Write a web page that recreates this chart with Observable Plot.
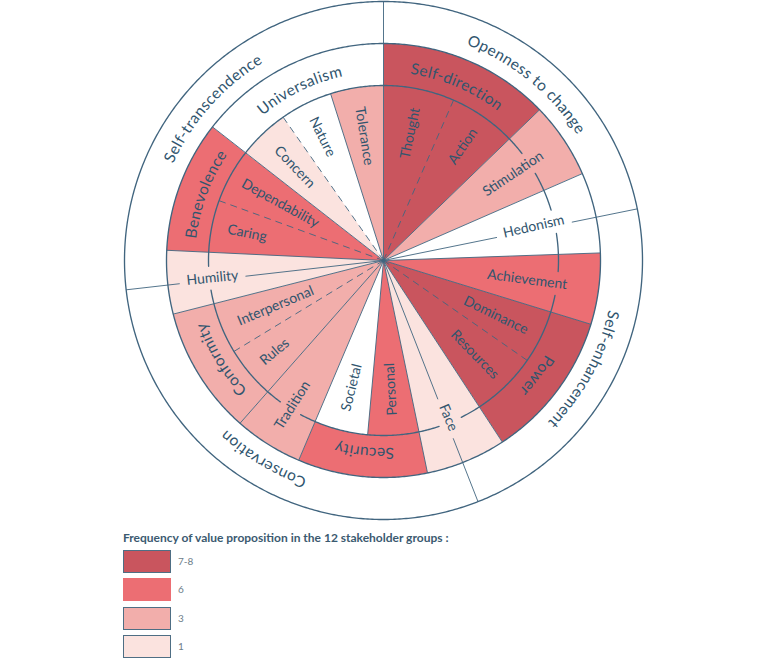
<!DOCTYPE html>
<html>
<head>
<meta charset="utf-8">
<script src="https://cdn.jsdelivr.net/npm/d3@7"></script>
<script src="https://cdn.jsdelivr.net/npm/@observablehq/plot@0.6"></script>
<style>
  body { margin: 0; background: #fff; }
  #wrap { position: relative; width: 766px; height: 666px; overflow: hidden; font-family: Lato, "Open Sans", sans-serif; }
  #wrap svg { position: absolute; left: 0; top: 0; }
  .lg-title { position: absolute; left: 123px; top: 531px; font-size: 12px; font-weight: 700; color: #3b5a70; line-height: 14px; white-space: nowrap; }
  .lg-box { position: absolute; left: 123px; width: 48px; height: 23px; box-sizing: border-box; }
  .lg-label { position: absolute; left: 178px; height: 23px; line-height: 23px; font-size: 10px; color: #6d7d8a; }
</style>
</head>
<body>
<div id="wrap"></div>
<script>
// ---- Data: Schwartz circle of values, angles in degrees clockwise from 12 o'clock ----
const higherOrder = ["Openness to change", "Self-enhancement", "Conservation", "Self-transcendence"];
const higherOrderStart = [0, 78.5, 158.6, 263.5];

const values = ["Self-direction", "Stimulation", "Hedonism", "Achievement", "Power", "Face",
                "Security", "Tradition", "Conformity", "Humility", "Benevolence", "Universalism"];
const valueStart = [0, 46, 66.4, 88, 107.1, 146.8, 168.3, 203, 221.4, 255.7, 272.7, 308];
// frequency class of each value proposition among the 12 stakeholder groups ("0" = not mentioned)
const valueFrequency = ["7-8", "3", "0", "6", "7-8", "1", "6", "3", "3", "1", "6", "0"];

const subValues = ["Thought", "Action", "Dominance", "Resources", "Personal", "Societal",
                   "Rules", "Interpersonal", "Caring", "Dependability", "Concern", "Nature", "Tolerance"];
const subParent = ["Self-direction", "Self-direction", "Power", "Power", "Security", "Security",
                   "Conformity", "Conformity", "Benevolence", "Benevolence", "Universalism", "Universalism", "Universalism"];
const subStart = [0, 23.6, 107.1, 124.8, 168.3, 185.2, 221.4, 238.7, 272.7, 290, 308, 325, 342.4];
const subFrequency = ["7-8", "7-8", "7-8", "7-8", "6", "0", "3", "3", "6", "6", "1", "0", "3"];
// sub-values whose boundary with the preceding sub-value is a soft (dashed) one
const softBoundaryBefore = ["Action", "Resources", "Interpersonal", "Dependability", "Nature"];

const legendLevels = ["7-8", "6", "3", "1"];
const legendTitle = "Frequency of value proposition in the 12 stakeholder groups :";

// ---- Layout ----
const R1 = 175, R2 = 217, R3 = 259;           // inner arc, value ring, higher-order ring
const ringFontSize = 15.5, radialFontSize = 14;
const FONT = "Lato, 'Open Sans', sans-serif";
const TEXT = "#31556e", LINE = "#41657f";
// radial labels and the distance of their centre from the middle
const radialNames = ["Thought", "Action", "Stimulation", "Hedonism", "Achievement", "Dominance", "Resources",
                     "Face", "Personal", "Societal", "Tradition", "Rules", "Interpersonal", "Humility",
                     "Caring", "Dependability", "Concern", "Nature", "Tolerance"];
const radialRadius = [130, 139, 156, 154, 145, 125, 131, 170, 129, 131, 171, 142, 117, 172, 139, 118, 129, 138, 126];

// ---- Geometry helpers ----
const rad = d => d * Math.PI / 180;
const deg = r => r * 180 / Math.PI;
const pt = (a, r) => [r * Math.sin(rad(a)), r * Math.cos(rad(a))];
function arcPoints(a0, a1, r) {
  const n = Math.max(2, Math.ceil(Math.abs(a1 - a0) / 0.5));
  return d3.range(n + 1).map(i => pt(a0 + (a1 - a0) * i / n, r));
}
const ctx = document.createElement("canvas").getContext("2d");
function textWidth(s, size) { ctx.font = `${size}px Lato`; return ctx.measureText(s).width; }

const valueEnd = values.map((_, i) => i + 1 < values.length ? valueStart[i + 1] : 360);
const subEnd = subValues.map((s, i) => {
  if (i + 1 < subValues.length && subParent[i + 1] === subParent[i]) return subStart[i + 1];
  return valueEnd[values.indexOf(subParent[i])];
});
const higherEnd = higherOrder.map((_, i) => i + 1 < higherOrder.length ? higherOrderStart[i + 1] : 360);

function span(name) {
  let i = subValues.indexOf(name);
  if (i >= 0) return [subStart[i], subEnd[i]];
  i = values.indexOf(name);
  return [valueStart[i], valueEnd[i]];
}

// ---- Filled wedges ----
const wedgeRows = [];
function addWedge(id, freq, a0, a1, r) {
  const pts = [...arcPoints(a0, a1, r), [0, 0]];
  pts.forEach(([x, y]) => wedgeRows.push({id, freq, x, y}));
}
values.forEach((v, i) => addWedge(v, valueFrequency[i], valueStart[i], valueEnd[i], R2));
subValues.forEach((s, i) => {
  const parentFreq = valueFrequency[values.indexOf(subParent[i])];
  if (subFrequency[i] !== parentFreq) addWedge(s, subFrequency[i], subStart[i], subEnd[i], R1);
});

// ---- Radial labels ----
const labelRows = radialNames.map((name, i) => {
  const [a0, a1] = span(name);
  const a = (a0 + a1) / 2, r = radialRadius[i];
  const [x, y] = pt(a, r);
  const outward = a < 170;
  return {name, a, r, x, y, rotate: outward ? a - 90 : a - 270, w: textWidth(name, radialFontSize)};
});

// ---- Lines ----
const solidLinks = [], dashedLinks = [];
const link = (a, r0, r1) => { const [x1, y1] = pt(a, r0), [x2, y2] = pt(a, r1); return {x1, y1, x2, y2}; };
// value boundaries
valueStart.forEach(a => { if (!higherOrderStart.includes(a)) solidLinks.push(link(a, 0, R2)); });
// sub-value boundaries
subValues.forEach((s, i) => {
  if (i === 0 || subParent[i - 1] !== subParent[i]) return;
  (softBoundaryBefore.includes(s) ? dashedLinks : solidLinks).push(link(subStart[i], 0, R1));
});
// higher-order dividers, interrupted where a label sits on them
const dividerLinks = [];
higherOrderStart.forEach(a => {
  const lab = labelRows.find(d => Math.abs(d.a - a) < 2);
  if (lab) {
    dividerLinks.push(link(a, 0, lab.r - lab.w / 2 - 7));
    dividerLinks.push(link(a, lab.r + lab.w / 2 + 7, R3));
  } else dividerLinks.push(link(a, 0, R3));
});

// circles; the inner one is interrupted by the labels crossing it
const circleRows = [];
const addArc = (id, a0, a1, r) => arcPoints(a0, a1, r).forEach(([x, y]) => circleRows.push({id, x, y}));
addArc("r2", 0, 360, R2);
addArc("r3", 0, 360, R3);
const gapHalf = deg((radialFontSize / 2 + 5) / R1);
const gaps = labelRows.filter(d => Math.abs(d.r - R1) < d.w / 2)
  .map(d => [d.a - gapHalf, d.a + gapHalf]).sort((p, q) => p[0] - q[0]);
let from = 0;
gaps.forEach(([g0, g1], k) => { addArc("r1-" + k, from, g0, R1); from = g1; });
addArc("r1-end", from, 360, R1);

// ---- Plot ----
const chart = Plot.plot({
  width: 766,
  height: 530,
  margin: 0,
  x: {domain: [-383, 383], axis: null},
  y: {domain: [-270, 260], axis: null},
  color: {type: "ordinal", domain: ["7-8", "6", "3", "1", "0"],
          range: ["#c9555e", "#ec6e73", "#f2aeab", "#fbe3df", "#ffffff"]},
  style: {background: "white"},
  marks: [
    Plot.line(wedgeRows, {x: "x", y: "y", z: "id", fill: "freq", stroke: "none"}),
    Plot.link(solidLinks, {x1: "x1", y1: "y1", x2: "x2", y2: "y2", stroke: LINE, strokeWidth: 0.9}),
    Plot.link(dashedLinks, {x1: "x1", y1: "y1", x2: "x2", y2: "y2", stroke: LINE, strokeWidth: 0.9, strokeDasharray: "7,5"}),
    Plot.link(dividerLinks, {x1: "x1", y1: "y1", x2: "x2", y2: "y2", stroke: LINE, strokeWidth: 0.9}),
    Plot.line(circleRows, {x: "x", y: "y", z: "id", stroke: LINE, strokeWidth: 1.35}),
    Plot.dot([[0, 0]], {x: d => d[0], y: d => d[1], r: 2, fill: LINE, stroke: "none"}),
    Plot.text(labelRows, {x: "x", y: "y", text: "name", rotate: "rotate", fontSize: radialFontSize,
                          fontFamily: FONT, fill: TEXT, textAnchor: "middle", lineAnchor: "middle"})
  ]
});

// ---- Curved ring labels, written clockwise along circles of the chart's scales ----
const sx = chart.scale("x"), sy = chart.scale("y");
const cx = sx.apply(0), cy = sy.apply(0);
const svg = d3.select(chart);
const defs = svg.append("defs");
function circlePath(startAngle, r) {
  const p = a => [cx + r * Math.sin(rad(a)), cy - r * Math.cos(rad(a))];
  const [x0, y0] = p(startAngle), [x1, y1] = p(startAngle + 180);
  return `M${x0},${y0}A${r},${r} 0 1 1 ${x1},${y1}A${r},${r} 0 1 1 ${x0},${y0}`;
}
const ringLabels = [
  ...higherOrder.map((name, i) => ({name, a: (higherOrderStart[i] + higherEnd[i]) / 2, r: (R2 + R3) / 2 - 1})),
  ...values.filter(v => subParent.includes(v)).map(name => { const [a0, a1] = span(name); return {name, a: (a0 + a1) / 2, r: (R1 + R2) / 2 - 2}; })
];
const ringG = svg.append("g");
ringLabels.forEach((d, i) => {
  const rPx = sx.apply(d.r) - cx;
  defs.append("path").attr("id", "ring-path-" + i).attr("d", circlePath(d.a - 180, rPx));
  ringG.append("text")
    .attr("font-family", FONT).attr("font-size", ringFontSize).attr("fill", TEXT)
    .attr("letter-spacing", 0.6).attr("dominant-baseline", "central")
    .append("textPath").attr("href", "#ring-path-" + i)
    .attr("startOffset", "50%").attr("text-anchor", "middle").text(d.name);
});

// ---- Legend ----
const wrap = document.getElementById("wrap");
wrap.appendChild(chart);
const colorScale = chart.scale("color");
const title = document.createElement("div");
title.className = "lg-title";
title.textContent = legendTitle;
wrap.appendChild(title);
const boxTops = [550, 578, 607, 635];
const unframed = new Set(["6"]);
legendLevels.forEach((lv, i) => {
  const box = document.createElement("div");
  box.className = "lg-box";
  box.style.top = boxTops[i] + "px";
  box.style.background = colorScale.apply(lv);
  box.style.border = unframed.has(lv) ? "none" : "1.5px solid #4e6e84";
  wrap.appendChild(box);
  const lab = document.createElement("div");
  lab.className = "lg-label";
  lab.style.top = boxTops[i] + "px";
  lab.textContent = lv;
  wrap.appendChild(lab);
});
</script>
</body>
</html>
